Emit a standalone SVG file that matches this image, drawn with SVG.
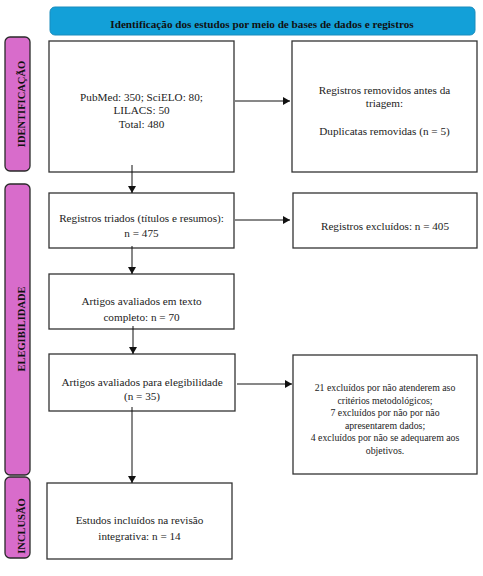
<svg xmlns="http://www.w3.org/2000/svg" width="483" height="576" viewBox="0 0 483 576">
<style>
.box{fill:#fff;stroke:#333;stroke-width:1.3}
.side{fill:#d86ccb;stroke:#2a2a2a;stroke-width:1.3}
.t{font-family:"Liberation Serif","Times New Roman",serif;font-size:11.2px;fill:#222;text-anchor:middle}
.s{font-family:"Liberation Serif","Times New Roman",serif;font-size:9.8px;fill:#222;text-anchor:middle}
.b{font-family:"Liberation Serif","Times New Roman",serif;font-weight:bold;fill:#111;text-anchor:middle}
.c{stroke:#111;stroke-width:1;fill:none;marker-end:url(#ah)}
</style>
<defs>
<marker id="ah" markerWidth="8" markerHeight="8" refX="7" refY="4" orient="auto" markerUnits="userSpaceOnUse">
<path d="M0,0 L7,4 L0,8 Z" fill="#111"/>
</marker>
</defs>
<rect width="483" height="576" fill="#fff"/>
<g id="header">
<rect x="50" y="7" width="425" height="28" rx="5" fill="#13a0d8" stroke="#1b8cbd" stroke-width="1"/>
<text class="b" x="262" y="28" font-size="11.2">Identificação dos estudos por meio de bases de dados e registros</text>
</g>
<g id="side-identificacao">
<rect class="side" x="5" y="37" width="25" height="134" rx="5"/>
<text class="b" font-size="10.5" transform="translate(21.5,104) rotate(-90)" dominant-baseline="central">IDENTIFICAÇÃO</text>
</g>
<g id="side-elegibilidade">
<rect class="side" x="5" y="184" width="25" height="291" rx="5"/>
<text class="b" font-size="10.5" transform="translate(21.5,329) rotate(-90)" dominant-baseline="central">ELEGIBILIDADE</text>
</g>
<g id="side-inclusao">
<rect class="side" x="5" y="477" width="25" height="81" rx="5"/>
<text class="b" font-size="10.5" transform="translate(21.5,526) rotate(-90)" dominant-baseline="central">INCLUSÃO</text>
</g>
<g id="n1">
<rect class="box" x="49" y="41" width="185" height="131"/>
<text class="t" x="141.5" y="101">PubMed: 350; SciELO: 80;</text>
<text class="t" x="141.5" y="114">LILACS: 50</text>
<text class="t" x="141.5" y="128">Total: 480</text>
</g>
<g id="n2">
<rect class="box" x="292" y="41" width="185" height="131"/>
<text class="t" x="384.5" y="94">Registros removidos antes da</text>
<text class="t" x="384.5" y="107">triagem:</text>
<text class="t" x="384.5" y="135">Duplicatas removidas (n = 5)</text>
</g>
<g id="n3">
<rect class="box" x="49" y="193" width="185" height="55"/>
<text class="t" x="141.5" y="222">Registros triados (títulos e resumos):</text>
<text class="t" x="141.5" y="237">n = 475</text>
</g>
<g id="n4">
<rect class="box" x="293" y="193" width="184" height="55"/>
<text class="t" x="385" y="230">Registros excluídos: n = 405</text>
</g>
<g id="n5">
<rect class="box" x="49" y="274" width="185" height="55"/>
<text class="t" x="141.5" y="305">Artigos avaliados em texto</text>
<text class="t" x="141.5" y="321">completo: n = 70</text>
</g>
<g id="n6">
<rect class="box" x="49" y="354" width="186" height="57"/>
<text class="t" x="142" y="386">Artigos avaliados para elegibilidade</text>
<text class="t" x="142" y="400">(n = 35)</text>
</g>
<g id="n7">
<rect class="box" x="293" y="355" width="184" height="119"/>
<text class="s" x="385" y="391">21 excluídos por não atenderem aso</text>
<text class="s" x="385" y="403.5">critérios metodológicos;</text>
<text class="s" x="385" y="416">7 excluídos por não por não</text>
<text class="s" x="385" y="428.5">apresentarem dados;</text>
<text class="s" x="385" y="441">4 excluídos por não se adequarem aos</text>
<text class="s" x="385" y="453.5">objetivos.</text>
</g>
<g id="n8">
<rect class="box" x="47" y="483" width="185" height="76"/>
<text class="t" x="139.5" y="524">Estudos incluídos na revisão</text>
<text class="t" x="139.5" y="540">integrativa: n = 14</text>
</g>
<g id="connectors">
<line class="c" x1="235" y1="101" x2="290" y2="101"/>
<line class="c" x1="132" y1="165" x2="132" y2="193"/>
<line class="c" x1="235" y1="220" x2="290" y2="220"/>
<line class="c" x1="132" y1="246" x2="132" y2="274"/>
<line class="c" x1="133" y1="326" x2="133" y2="354"/>
<line class="c" x1="237" y1="384" x2="292" y2="384"/>
<line class="c" x1="132" y1="407" x2="132" y2="483"/>
</g>
</svg>
